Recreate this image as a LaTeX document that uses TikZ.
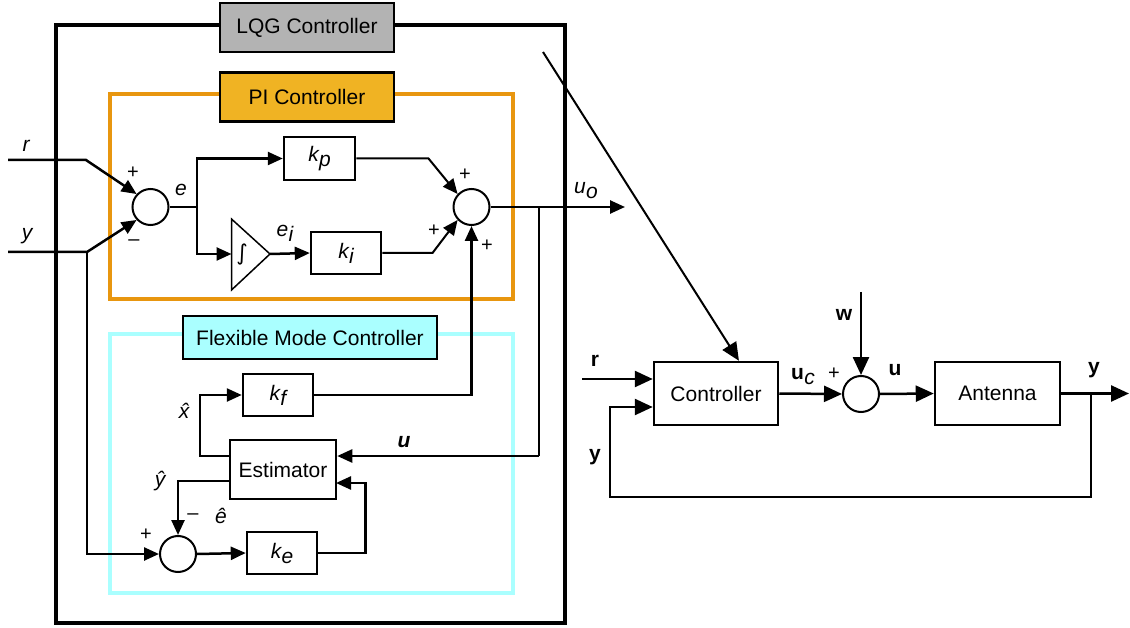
\documentclass[tikz,border=0pt]{standalone}
\usepackage{fontspec}
\setmainfont{Liberation Sans}
\newfontfamily\symfont{DejaVu Sans}
\usetikzlibrary{arrows.meta}

% subscripted symbol: base and lowered index
\newcommand\subsym[2]{#1\kern0.2pt\raisebox{-5pt}{#2}}

\definecolor{lqggray}{HTML}{B3B3B3}
\definecolor{piorange}{HTML}{E8960F}
\definecolor{pifill}{HTML}{F0B323}
\definecolor{fmccyan}{HTML}{AAFFFF}

\begin{document}
\begin{tikzpicture}[x=1pt,y=-1pt,
  font=\fontsize{21}{24}\selectfont,
  every node/.style={inner sep=0pt},
  blk/.style={draw, line width=2.5pt, fill=white, minimum width=#1},
  blk/.default=70,
  tag/.style={draw, line width=2.5pt, minimum width=174, minimum height=49},
  sumnode/.style={draw, circle, line width=2pt, minimum size=36, fill=white},
  conn/.style={line width=2.5pt},
  thin/.style={line width=2pt},
  arr/.style={-{Triangle[length=15pt,width=13pt]}},
  bigarr/.style={-{Triangle[length=18pt,width=16pt]}},
  sgn/.style={font=\fontsize{20}{22}\selectfont},
  itl/.style={font=\fontsize{21}{24}\selectfont\itshape},
  bfl/.style={font=\fontsize{21}{24}\selectfont\bfseries},
  bil/.style={font=\fontsize{21}{24}\selectfont\bfseries\itshape}
]
\useasboundingbox (0,0) rectangle (1130,628);

% ---- enclosing frames ----
\draw[line width=4pt] (55.5,25) rectangle (564.5,623);
\draw[piorange, line width=3.5pt] (110,94) rectangle (513,299);
\draw[fmccyan, line width=3.5pt] (110,334) rectangle (513,593);

\node[tag, fill=lqggray] (lqg) at (307,27.5) {LQG Controller};
\node[tag, fill=pifill] (pi) at (307,97) {PI Controller};
\node[draw, line width=2.5pt, fill=fmccyan, minimum width=254, minimum height=43] (fmc) at (310,337.5) {Flexible Mode Controller};

% ---- PI controller ----
\node[sumnode] (s1) at (150.5,207) {};
\node[sumnode] (s2) at (471.5,207) {};
\node[blk=71, minimum height=43] (kp) at (319.5,158.5) {\textit{\subsym{k}{p}}};
\node[blk, minimum height=42] (ki) at (346,253) {\textit{\subsym{k}{i}}};

\coordinate (iL) at (231.5,254);
\coordinate (iT) at (270,254);
\draw[line width=1.5pt] (231.5,219) -- (iT) -- (231.5,290) -- cycle;
\node (intg) at (242,255) {\symfont\fontsize{22}{24}\selectfont\textit{∫}};

\coordinate (rin) at (8,160);
\coordinate (rb) at (86,160);
\coordinate (yin) at (8,252);
\coordinate (yb) at (87,252);
\coordinate (eb) at (197,207);
\coordinate (kpb) at (428.5,158.5);
\coordinate (kib) at (432.5,253);

\draw[conn, arr] (rin) -- (rb) -- (s1.137);
\draw[conn, arr] (yin) -- (yb) -- (s1.223);
\draw[thin] (s1.east) -- (eb);
\draw[conn, arr] (eb) |- (kp.west);
\draw[conn, arr] (eb) |- (iL);
\draw[conn, arr] (iT) -- (ki.west);
\draw[thin, arr] (kp.east) -- (kpb) -- (s2.137);
\draw[thin, arr] (ki.east) -- (kib) -- (s2.223);

\node[itl] (rl) at (26,146) {r};
\node[itl] (yl) at (27,236) {y};
\node[itl] (el) at (181,190) {e};
\node[itl] (eil) at (285,233) {\subsym{e}{i}};
\node[sgn] at (133,173) {+};
\node[sgn] at (134,243) {–};
\node[sgn] at (465,175) {+};
\node[sgn] at (434,231) {+};
\node[sgn] at (487,246) {+};

% ---- LQG output ----
\coordinate (uo) at (625,207);
\coordinate (ub) at (539,207);
\coordinate (uk) at (539,456);
\draw[conn, arr] (s2.east) -- (uo);
\node[itl] (uol) at (586,191) {\subsym{u}{o}};

% ---- flexible mode controller ----
\node[blk, minimum height=42] (kf) at (278,395) {\textit{\subsym{k}{f}}};
\node[blk=106, minimum height=59] (est) at (283,469.5) {Estimator};
\node[sumnode] (s3) at (178,554) {};
\node[blk, minimum height=42] (ke) at (282,553) {\textit{\subsym{k}{e}}};

\coordinate (xh) at (200,456);
\coordinate (yh) at (178,481);
\coordinate (keb) at (365.5,553);
\coordinate (ek) at (336,483);
\coordinate (yd) at (87,554);

\draw[conn, arr] (kf.east) -| (s2.south);
\draw[thin] (ub) -- (uk);
\draw[conn, arr] (uk) -- (est.east |- uk);
\draw[conn, arr] (est.west |- xh) -- (xh) |- (kf.west);
\draw[conn, arr] (est.west |- yh) -- (yh) -- (s3.north);
\draw[conn, arr] (s3.east) -- (ke.west);
\draw[conn, arr] (ke.east) -- (keb) |- (ek);
\draw[conn, arr] (yb) -- (yd) -- (s3.west);

\node[itl] (xhl) at (184,411) {\^{x}};
\node[itl] (yhl) at (160,481) {\^{y}};
\node[itl] (ehl) at (221,516) {\^{e}};
\node[bil] (ul) at (404,442) {u};
\node[sgn] at (193,517) {–};
\node[sgn] at (146,535) {+};

% ---- closed loop ----
\node[blk=124, minimum height=63] (ctrl) at (716,393.5) {Controller};
\node[blk=125, minimum height=63] (ant) at (997.5,393.5) {Antenna};
\node[sumnode] (s4) at (861,394) {};

\coordinate (dg) at (543,52);
\coordinate (rr) at (582,379);
\coordinate (wtop) at (861,292);
\coordinate (yo) at (1129,393.5);
\coordinate (yf) at (1091,393.5);
\coordinate (yfl) at (610,497);
\coordinate (yfc) at (610,407);

\draw[thin, bigarr] (dg) -- (ctrl.55);
\draw[conn, bigarr] (rr) -- (ctrl.west |- rr);
\draw[conn, bigarr] (ctrl.east) -- (s4.west);
\draw[conn, bigarr] (wtop) -- (s4.north);
\draw[conn, bigarr] (s4.east) -- (ant.west);
\draw[conn, bigarr] (ant.east) -- (yo);
\draw[conn, bigarr] (yf) |- (yfl) -- (yfc) -- (ctrl.west |- yfc);

\node[bfl] (rl2) at (595,361) {r};
\node[bfl] (yl2) at (595,457) {y};
\node[bfl] (wl) at (844,315) {w};
\node (ucl) at (803,377) {\textbf{u}\kern0.2pt\raisebox{-5pt}{\textit{c}}};
\node[sgn] at (834,374) {+};
\node[bfl] (ul2) at (895,370) {u};
\node[bfl] (yl3) at (1094,370) {y};
\end{tikzpicture}
\end{document}
